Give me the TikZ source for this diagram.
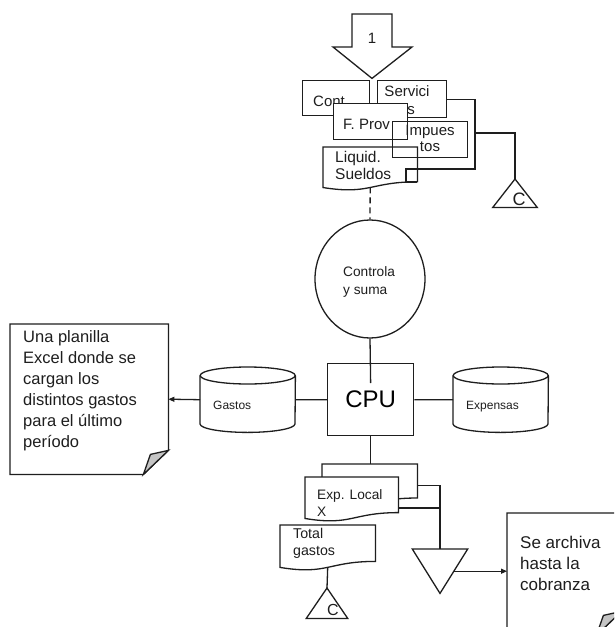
\documentclass[tikz,border=0pt]{standalone}
\usepackage{fontspec}
\setmainfont{Liberation Sans}
\usetikzlibrary{calc,shapes.geometric,arrows.meta}

\definecolor{foldgray}{HTML}{C4C4C4}
\definecolor{inkline}{HTML}{1E1E1E}

\tikzset{
  ln/.style={line width=1.3pt, draw=inkline},
  frame/.style={ln, rectangle, inner sep=0pt, anchor=north west},
  slot/.style={rectangle, inner sep=0pt, anchor=north west},
  tx/.style={inner sep=0pt, text=inkline},
  tip/.style={-{Triangle[length=6pt,width=5pt]}},
  fA/.style={font=\fontsize{12pt}{14pt}\selectfont},
  fB/.style={font=\fontsize{13.7pt}{17pt}\selectfont},
  fC/.style={font=\fontsize{13.7pt}{18pt}\selectfont},
  fD/.style={font=\fontsize{14.2pt}{17pt}\selectfont},
  fE/.style={font=\fontsize{15pt}{18pt}\selectfont},
  fF/.style={font=\fontsize{15pt}{16pt}\selectfont},
  fG/.style={font=\fontsize{15.5pt}{17pt}\selectfont},
  fH/.style={font=\fontsize{16.5pt}{21pt}\selectfont},
  fI/.style={font=\fontsize{17pt}{21pt}\selectfont},
  fJ/.style={font=\fontsize{24pt}{28pt}\selectfont},
}

% document symbol: rectangle with a wavy bottom edge
\newcommand\docoutline[1]{%
  \draw[ln,fill=white] (#1.north west) -- (#1.north east)
    -- ($(#1.north east)!0.802!(#1.south east)$)
    .. controls ($(#1.north)!0.802!(#1.south)$) and ($(#1.north)!1.107!(#1.south)$)
    .. ($(#1.north west)!0.934!(#1.south west)$) -- cycle;}

% stored data drum
\newcommand\drum[1]{%
  \draw[ln,fill=white] ($(#1.north west)+(0,8.5)$) -- ($(#1.south west)+(0,-8.5)$)
    arc[start angle=180,end angle=360,x radius=47.5pt,y radius=8.5pt]
    -- ($(#1.north east)+(0,8.5)$);
  \draw[ln] ($(#1.north)+(0,8.5)$) ellipse[x radius=47.5pt,y radius=8.5pt];}

% note with a folded lower right corner
\newcommand\notepath[1]{%
  \draw[ln,fill=white] (#1.north west) -- (#1.north east)
    -- ($(#1.south east)+(0,-24)$) -- ($(#1.south east)+(-25,0)$)
    -- (#1.south west) -- cycle;
  \draw[ln,fill=foldgray] ($(#1.south east)+(-25,0)$) -- ($(#1.south east)+(-18,-20)$)
    -- ($(#1.south east)+(0,-24)$) -- cycle;}

\begin{document}
\begin{tikzpicture}[x=1pt,y=-1pt]
\path[use as bounding box, fill=white] (0,0) rectangle (614,627);
\clip (0,0) rectangle (614,627);

% entry connector "1"
\node[slot, anchor=north, minimum width=79pt, minimum height=64pt] (entry) at (372,14) {};
\draw[ln, fill=white] ($(entry.north)+(-20,0)$) -- ($(entry.north)+(20,0)$)
  -- ($(entry.north)+(20,33)$) -- ($(entry.north)+(40,33)$) -- (entry.south)
  -- ($(entry.north)+(-39,33)$) -- ($(entry.north)+(-20,33)$) -- cycle;
\node[tx, fE] (entry-t) at (372,38) {1};

% input documents
\node[frame, minimum width=67pt, minimum height=35pt] (cont) at (302,80) {};
\node[tx, fE, anchor=base west] (cont-t) at (313,106) {Cont.};

\node[frame, minimum width=69pt, minimum height=37pt] (serv) at (377,80) {};
\node[tx, fE, align=center, anchor=north] (serv-t) at (407,85) {Servici\\os};

\node[slot, minimum width=94pt, minimum height=43pt] (liq) at (323,147) {};
\docoutline{liq}
\node[tx, fG, align=left, anchor=north west] (liq-t) at (335,151) {Liquid.\\Sueldos};

\node[frame, fill=white, minimum width=74pt, minimum height=36pt] (prov) at (333,103) {};
\node[tx, fE, anchor=base west] (prov-t) at (343,129) {F. Prov};

\node[frame, minimum width=75pt, minimum height=36pt] (imp) at (392,121) {};
\node[tx, fF, align=center, anchor=north] (imp-t) at (430,125) {Impues\\tos};

% off-line file C (top)
\node[slot, anchor=north, minimum width=44pt, minimum height=28pt] (c1) at (515,179) {};
\draw[ln] (c1.north) -- (c1.south east) -- (c1.south west) -- cycle;
\node[tx, font=\fontsize{18pt}{20pt}\selectfont] (c1-t) at (519,199) {C};

\coordinate (bus-low) at (475,169);
\coordinate (bus-tap) at (475,133);
\coordinate (sq-a) at (406,169);
\coordinate (sq-b) at (406,182);
\coordinate (sq-c) at (417,182);
\draw[ln] (serv.east) -| (bus-low) -- (sq-a) -- (sq-b) -- (sq-c);
\draw[ln] (bus-tap) -| (c1.north);

% manual process
\node[ln, ellipse, inner sep=0pt, minimum width=110pt, minimum height=118pt] (ctl) at (370,279) {};
\node[tx, fC, align=left, anchor=north west] (ctl-t) at (343,266) {Controla\\y suma};
\coordinate (liq-bottom) at ($(liq.north)!0.932!(liq.south)$);
\draw[ln, dash pattern=on 6pt off 4pt] (liq-bottom) -- (ctl.north);

% processing unit
\node[frame, fJ, minimum width=86pt, minimum height=72pt] (cpu) at (327,363) {CPU};
\coordinate (cpu-in) at ($(cpu.north)+(0,20)$);
\draw[ln] (ctl.south) -- (cpu-in);

% stored files
\node[slot, minimum width=95pt, minimum height=65pt] (gas) at (200,367) {};
\drum{gas}
\node[tx, fA, anchor=base west] (gas-t) at (213,409) {Gastos};

\node[slot, minimum width=95pt, minimum height=65pt] (exp) at (453,367) {};
\drum{exp}
\node[tx, fA, anchor=base west] (exp-t) at (466,409) {Expensas};

\draw[ln] (cpu.west) -- (gas.east);
\draw[ln] (cpu.east) -- (exp.west);

% spreadsheet note
\node[slot, minimum width=158pt, minimum height=150pt] (memo) at (10,324) {};
\notepath{memo}
\node[tx, fH, align=left, anchor=north west] (memo-t) at (23,330)
  {Una planilla\\Excel donde se\\cargan los\\distintos gastos\\para el último\\período};
\draw[ln, tip] (gas.west) -- (memo.east);

% output documents
\node[slot, minimum width=95pt, minimum height=42pt] (back) at (322,464) {};
\docoutline{back}
\draw[ln] (cpu.south) -- (cpu.south |- back.north);
\node[slot, minimum width=93pt, minimum height=44pt] (front) at (305,477) {};
\docoutline{front}
\node[tx, fB, align=left, anchor=north west] (front-t) at (317,489) {Exp. Local\\X};

% archive
\node[slot, anchor=north, minimum width=55pt, minimum height=44pt] (sink) at (440,549) {};
\draw[ln] (sink.north west) -- (sink.north east) -- (sink.south) -- cycle;
\draw[ln] (back.east) -| (sink.north);
\coordinate (front-out) at ($(front.north east)!0.7!(front.south east)$);
\draw[ln] (front-out) -- (front-out -| sink.north);

\node[slot, minimum width=114pt, minimum height=122pt] (arch) at (507,513) {};
\notepath{arch}
\node[tx, fI, align=left, anchor=north west] (arch-t) at (520,536) {Se archiva\\hasta la\\cobranza};
\coordinate (sink-out) at ($(sink.north east)!0.5!(sink.south)$);
\draw[ln, tip] (sink-out) -- (sink-out -| arch.west);

% totals
\node[slot, minimum width=95pt, minimum height=45pt] (tot) at (280,525) {};
\docoutline{tot}
\node[tx, fD, align=left, anchor=north west] (tot-t) at (293,528) {Total\\gastos};

\node[slot, anchor=north, minimum width=41pt, minimum height=30pt] (c2) at (327,588) {};
\draw[ln] (c2.north) -- (c2.south east) -- (c2.south west) -- cycle;
\node[tx, font=\fontsize{16pt}{18pt}\selectfont] (c2-t) at (333,610) {C};
\coordinate (tot-bottom) at ($(tot.north)!0.932!(tot.south)$);
\draw[ln] (tot-bottom) -- (c2.north);
\end{tikzpicture}
\end{document}
